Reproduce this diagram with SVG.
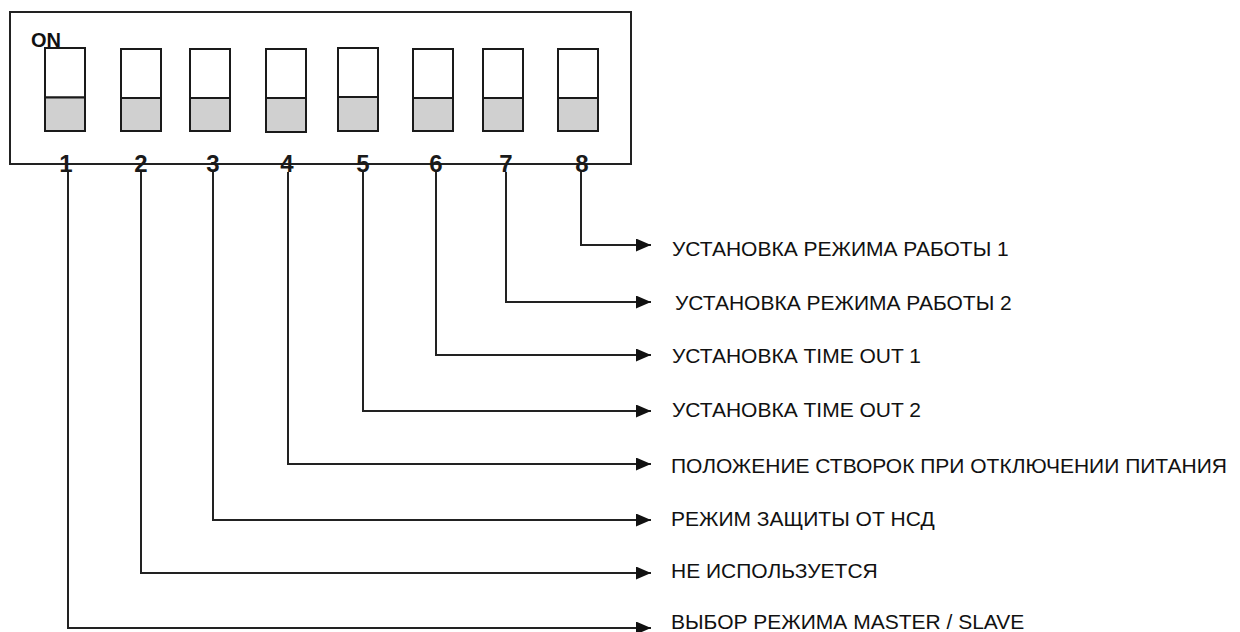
<svg xmlns="http://www.w3.org/2000/svg" width="1240" height="632" viewBox="0 0 1240 632">
<style>
.frame{fill:#fff;stroke:#222;stroke-width:2}
.sw-top{fill:#fff;stroke:#1a1a1a;stroke-width:2}
.sw-bot{fill:#d0d0d0;stroke:#1a1a1a;stroke-width:2}
.num{font-family:"Liberation Sans",Arial,sans-serif;font-weight:bold;font-size:24px;fill:#1a1a1a;text-anchor:middle}
.on{font-family:"Liberation Sans",Arial,sans-serif;font-weight:bold;font-size:20px;fill:#111}
.lbl{font-family:"Liberation Sans",Arial,sans-serif;font-size:21px;fill:#111}
.conn{fill:none;stroke:#222;stroke-width:2}
</style>
<defs>
<marker id="ah" markerUnits="userSpaceOnUse" markerWidth="16" markerHeight="13" refX="15" refY="6.5" orient="auto">
<path d="M0,0 L15,6.5 L0,13 z" fill="#111"/>
</marker>
</defs>
<rect width="1240" height="632" fill="#fff"/>
<g id="switch-block">
<rect class="frame" x="10" y="12" width="621" height="152"/>
<text class="on" x="31" y="47">ON</text>
<g id="sw1"><rect class="sw-top" x="45" y="48" width="40" height="49.5"/><rect class="sw-bot" x="45" y="97.5" width="40" height="33.5"/></g>
<g id="sw2"><rect class="sw-top" x="121" y="49" width="40" height="49"/><rect class="sw-bot" x="121" y="98" width="40" height="33"/></g>
<g id="sw3"><rect class="sw-top" x="190" y="49" width="40" height="49"/><rect class="sw-bot" x="190" y="98" width="40" height="33"/></g>
<g id="sw4"><rect class="sw-top" x="266" y="49" width="40" height="49"/><rect class="sw-bot" x="266" y="98" width="40" height="34"/></g>
<g id="sw5"><rect class="sw-top" x="338" y="48" width="40" height="49"/><rect class="sw-bot" x="338" y="97" width="40" height="34"/></g>
<g id="sw6"><rect class="sw-top" x="413" y="49" width="40" height="49"/><rect class="sw-bot" x="413" y="98" width="40" height="33"/></g>
<g id="sw7"><rect class="sw-top" x="483" y="49" width="40" height="49"/><rect class="sw-bot" x="483" y="98" width="40" height="33"/></g>
<g id="sw8"><rect class="sw-top" x="558" y="49" width="40" height="49"/><rect class="sw-bot" x="558" y="98" width="40" height="33"/></g>
</g>
<g id="connectors">
<path class="conn" d="M581,172 V245 H651" marker-end="url(#ah)"/>
<path class="conn" d="M506,172 V302 H651" marker-end="url(#ah)"/>
<path class="conn" d="M436,172 V355 H651" marker-end="url(#ah)"/>
<path class="conn" d="M363,172 V411 H651" marker-end="url(#ah)"/>
<path class="conn" d="M288,172 V464 H651" marker-end="url(#ah)"/>
<path class="conn" d="M213,172 V520 H651" marker-end="url(#ah)"/>
<path class="conn" d="M141,172 V573 H651" marker-end="url(#ah)"/>
<path class="conn" d="M68,172 V628 H651" marker-end="url(#ah)"/>
</g>
<g id="numbers">
<text class="num" x="66" y="172">1</text>
<text class="num" x="141" y="172">2</text>
<text class="num" x="213" y="172">3</text>
<text class="num" x="287" y="172">4</text>
<text class="num" x="363" y="172">5</text>
<text class="num" x="436" y="172">6</text>
<text class="num" x="506" y="172">7</text>
<text class="num" x="582" y="172">8</text>
</g>
<g id="label8"><text class="lbl" x="672" y="256">УСТАНОВКА РЕЖИМА РАБОТЫ 1</text></g>
<g id="label7"><text class="lbl" x="675" y="310">УСТАНОВКА РЕЖИМА РАБОТЫ 2</text></g>
<g id="label6"><text class="lbl" x="672" y="363">УСТАНОВКА TIME OUT 1</text></g>
<g id="label5"><text class="lbl" x="672" y="417">УСТАНОВКА TIME OUT 2</text></g>
<g id="label4"><text class="lbl" x="671" y="473">ПОЛОЖЕНИЕ СТВОРОК ПРИ ОТКЛЮЧЕНИИ ПИТАНИЯ</text></g>
<g id="label3"><text class="lbl" x="671" y="526">РЕЖИМ ЗАЩИТЫ ОТ НСД</text></g>
<g id="label2"><text class="lbl" x="671" y="578">НЕ ИСПОЛЬЗУЕТСЯ</text></g>
<g id="label1"><text class="lbl" x="671" y="629">ВЫБОР РЕЖИМА MASTER / SLAVE</text></g>
</svg>
